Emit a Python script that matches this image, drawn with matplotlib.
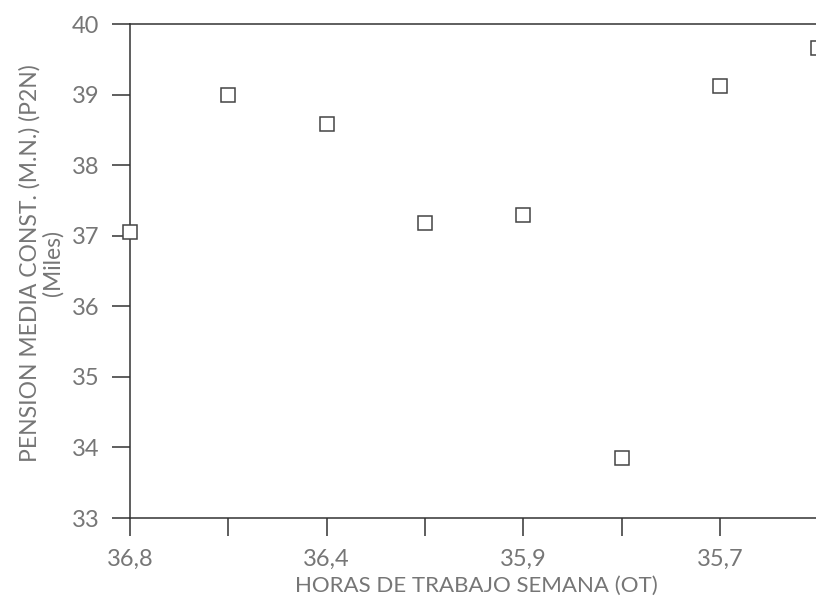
import matplotlib
matplotlib.use("Agg")
import matplotlib.pyplot as plt

# Data
positions = [0, 1, 2, 3, 4, 5, 6, 7]
tick_labels = ["36,8", "", "36,4", "", "35,9", "", "35,7", ""]
pension = [37.05, 39.00, 38.58, 37.18, 37.29, 33.85, 39.12, 39.66]
y_ticks = [33, 34, 35, 36, 37, 38, 39, 40]

plt.rcParams['font.family'] = ['Lato', 'DejaVu Sans']
plt.rcParams['font.weight'] = 'normal'

W, H = 816, 610
fig = plt.figure(figsize=(W / 100, H / 100), dpi=100)
fig.patch.set_facecolor('white')

left_px, right_px, top_px, bottom_px = 130, 880, 24, 518
ax = fig.add_axes([left_px / W, (H - bottom_px) / H,
                   (right_px - left_px) / W, (bottom_px - top_px) / H])

step = 98.3
ax.set_xlim(0, (right_px - left_px) / step)
ax.set_ylim(33, 40)

ax.plot(positions, pension, linestyle='none', marker='s', markersize=9.5,
        markerfacecolor='white', markeredgecolor='#444444', markeredgewidth=1.1,
        clip_on=False, zorder=5)

text_color = '#767676'
spine_color = '#333333'
for s in ['left', 'bottom', 'top']:
    ax.spines[s].set_color(spine_color)
    ax.spines[s].set_linewidth(1.1)
ax.spines['right'].set_visible(False)

ax.set_xticks(positions)
ax.set_xticklabels(tick_labels)
ax.set_yticks(y_ticks)
ax.tick_params(axis='both', direction='out', length=13, width=1.1,
               color=spine_color, labelcolor=text_color, labelsize=17)
ax.tick_params(axis='y', pad=9)
ax.tick_params(axis='x', pad=9)

fig.text(476 / W, 1 - 586 / H, "HORAS DE TRABAJO SEMANA (OT)", ha='center',
         va='center', fontsize=16, color=text_color)
fig.text(41 / W, 1 - 263 / H, "PENSION MEDIA CONST. (M.N.) (P2N)\n(Miles)",
         ha='center', va='center', rotation=90, fontsize=16.5, color=text_color,
         multialignment='center', linespacing=1.1)

fig.savefig("out.png", dpi=100)
